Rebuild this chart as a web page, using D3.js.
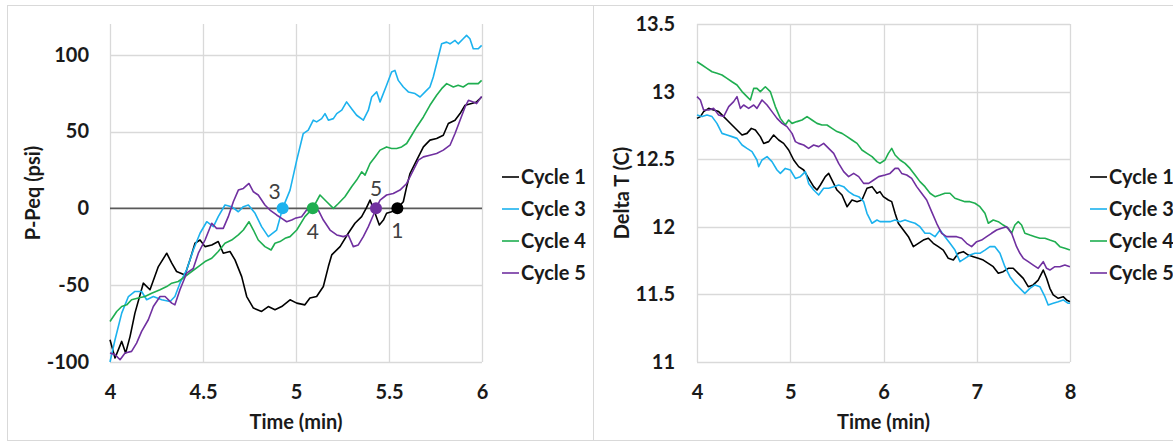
<!DOCTYPE html>
<html>
<head>
<meta charset="utf-8">
<script src="https://cdn.jsdelivr.net/npm/d3@7"></script>
<style>
  body { margin: 0; background: #fff; }
  svg { display: block; font-family: Lato, "Open Sans", sans-serif; }
</style>
</head>
<body>
<svg width="1173" height="444"></svg>
<script>
// series names / colours
const cycles = ['Cycle 1', 'Cycle 3', 'Cycle 4', 'Cycle 5'];
const cycleColors = ['#000000', '#1cb2ee', '#1fae50', '#7030a0'];

// left panel: P-Peq (psi) vs time (min)
const press1 = [[4.000,-85.5],[4.027,-97.4],[4.063,-86.6],[4.084,-94.2],[4.108,-83.3],[4.134,-68.2],[4.179,-48.7],[4.215,-53.0],[4.260,-37.9],[4.305,-29.2],[4.332,-35.7],[4.358,-41.1],[4.403,-43.3],[4.430,-33.5],[4.457,-22.7],[4.484,-20.6],[4.511,-24.9],[4.547,-23.8],[4.582,-21.6],[4.609,-29.2],[4.645,-28.1],[4.672,-33.5],[4.708,-44.4],[4.735,-57.4],[4.771,-64.9],[4.815,-67.1],[4.851,-63.9],[4.887,-66.0],[4.923,-63.9],[4.968,-59.5],[5.004,-61.7],[5.048,-62.8],[5.075,-58.4],[5.111,-57.4],[5.147,-50.9],[5.174,-37.9],[5.192,-30.3],[5.237,-24.9],[5.281,-16.2],[5.317,-9.7],[5.353,-5.4],[5.380,0.6],[5.398,5.4],[5.425,-3.2],[5.448,-10.8],[5.470,-7.6],[5.487,-3.2],[5.514,-2.2],[5.545,0],[5.577,4.3],[5.595,14.1],[5.613,22.7],[5.649,31.4],[5.685,40.0],[5.720,44.4],[5.756,45.5],[5.792,47.6],[5.819,55.2],[5.855,57.4],[5.882,61.7],[5.909,67.1],[5.944,68.2],[5.971,69.3],[5.998,72.5]];
const press3 = [[4.000,-100],[4.027,-85.5],[4.063,-68.2],[4.099,-57.4],[4.134,-54.1],[4.170,-54.1],[4.197,-59.5],[4.233,-57.4],[4.278,-59.5],[4.323,-60.6],[4.349,-57.4],[4.376,-48.7],[4.412,-40.0],[4.448,-27.1],[4.484,-16.2],[4.520,-8.7],[4.556,-11.9],[4.582,-5.4],[4.618,2.2],[4.654,1.1],[4.690,-2.2],[4.717,1.1],[4.744,2.2],[4.780,-3.2],[4.815,-11.9],[4.851,-18.4],[4.896,-14.1],[4.928,0],[4.968,11.9],[5.004,31.4],[5.039,48.7],[5.066,50.9],[5.093,57.4],[5.111,56.3],[5.138,58.4],[5.156,61.7],[5.174,57.4],[5.201,58.4],[5.219,61.7],[5.246,63.9],[5.272,69.3],[5.299,64.9],[5.326,60.6],[5.362,57.4],[5.389,63.9],[5.407,72.5],[5.434,75.8],[5.452,69.3],[5.487,80.1],[5.514,88.7],[5.532,89.8],[5.550,83.3],[5.577,79.0],[5.604,75.8],[5.640,74.7],[5.667,72.5],[5.694,75.8],[5.720,79.0],[5.738,85.5],[5.765,98.5],[5.783,107.1],[5.810,108.2],[5.828,107.1],[5.855,109.3],[5.872,107.1],[5.899,110.4],[5.917,112.6],[5.935,110.4],[5.953,103.9],[5.980,103.9],[5.998,106.1]];
const press4 = [[4.000,-73.6],[4.036,-67.1],[4.063,-63.9],[4.090,-62.8],[4.116,-59.5],[4.152,-58.4],[4.188,-57.4],[4.224,-55.2],[4.269,-53.0],[4.305,-50.9],[4.332,-48.7],[4.367,-47.6],[4.403,-44.4],[4.439,-41.1],[4.475,-37.9],[4.511,-34.6],[4.547,-32.5],[4.582,-28.1],[4.618,-22.7],[4.654,-20.6],[4.690,-17.3],[4.717,-14.1],[4.747,-8.7],[4.771,-14.1],[4.797,-20.6],[4.833,-24.9],[4.866,-27.1],[4.887,-22.7],[4.914,-21.6],[4.941,-19.5],[4.968,-18.4],[5.004,-14.1],[5.048,-5.4],[5.090,0],[5.129,8.7],[5.165,4.3],[5.201,0],[5.228,3.2],[5.263,7.6],[5.299,14.1],[5.326,18.4],[5.353,23.8],[5.371,21.6],[5.398,29.2],[5.425,33.5],[5.452,37.9],[5.487,40.0],[5.514,39.0],[5.541,39.0],[5.568,40.0],[5.595,42.2],[5.622,47.6],[5.649,53.0],[5.685,59.5],[5.720,67.1],[5.756,73.6],[5.783,77.9],[5.810,81.2],[5.846,79.0],[5.872,80.1],[5.899,79.0],[5.926,81.2],[5.953,81.2],[5.980,81.2],[5.998,83.3]];
const press5 = [[4.000,-94.2],[4.027,-95.2],[4.054,-98.5],[4.081,-94.2],[4.116,-93.1],[4.143,-87.7],[4.170,-80.1],[4.206,-72.5],[4.233,-63.9],[4.269,-57.4],[4.296,-57.4],[4.332,-61.7],[4.349,-62.8],[4.376,-53.0],[4.412,-42.2],[4.448,-39.0],[4.475,-29.2],[4.511,-20.6],[4.547,-9.7],[4.573,-13.0],[4.609,-13.0],[4.636,-5.4],[4.663,4.3],[4.690,11.9],[4.717,13.0],[4.747,16.2],[4.771,10.8],[4.797,8.7],[4.833,2.2],[4.860,-1.1],[4.896,-4.3],[4.923,-6.5],[4.950,-8.7],[4.977,-7.6],[4.995,-6.5],[5.030,-5.4],[5.057,-1.1],[5.093,1.1],[5.120,-1.1],[5.147,-7.6],[5.183,-14.1],[5.219,-17.3],[5.254,-18.4],[5.281,-17.3],[5.308,-24.9],[5.335,-23.8],[5.362,-18.4],[5.389,-11.9],[5.416,-4.3],[5.430,0],[5.452,5.4],[5.487,8.7],[5.523,9.7],[5.559,11.9],[5.595,16.2],[5.622,22.7],[5.658,31.4],[5.685,33.5],[5.720,34.6],[5.756,35.7],[5.792,37.9],[5.828,41.1],[5.855,48.7],[5.882,57.4],[5.909,66.0],[5.927,70.3],[5.953,69.3],[5.971,68.2],[5.998,72.9]];

// zero crossings marked on the left panel (same order as cycles)
const crossTimes = [5.545, 4.928, 5.090, 5.430];
const crossLabels = ['1', '3', '4', '5'];

// right panel: Delta T (C) vs time (min)
const temp1 = [[4.000,12.802],[4.036,12.815],[4.071,12.852],[4.125,12.876],[4.179,12.864],[4.232,12.852],[4.286,12.815],[4.322,12.790],[4.375,12.753],[4.429,12.716],[4.483,12.679],[4.536,12.691],[4.583,12.728],[4.626,12.716],[4.679,12.667],[4.715,12.617],[4.769,12.630],[4.822,12.679],[4.876,12.642],[4.929,12.617],[4.983,12.568],[5.037,12.494],[5.090,12.445],[5.144,12.420],[5.197,12.358],[5.251,12.297],[5.287,12.272],[5.323,12.309],[5.376,12.371],[5.412,12.395],[5.448,12.346],[5.501,12.272],[5.555,12.235],[5.609,12.149],[5.662,12.198],[5.716,12.186],[5.769,12.198],[5.823,12.285],[5.877,12.297],[5.930,12.248],[5.962,12.260],[5.998,12.223],[6.052,12.198],[6.088,12.186],[6.124,12.100],[6.159,12.026],[6.213,11.976],[6.267,11.927],[6.320,11.853],[6.374,11.878],[6.427,11.902],[6.481,11.915],[6.534,11.878],[6.588,11.853],[6.641,11.828],[6.695,11.767],[6.749,11.754],[6.802,11.804],[6.856,11.816],[6.909,11.791],[6.963,11.779],[7.016,11.767],[7.070,11.754],[7.124,11.730],[7.177,11.705],[7.231,11.656],[7.284,11.668],[7.338,11.693],[7.391,11.693],[7.445,11.656],[7.499,11.619],[7.552,11.557],[7.606,11.570],[7.659,11.606],[7.713,11.680],[7.749,11.619],[7.784,11.545],[7.820,11.496],[7.874,11.471],[7.927,11.483],[7.963,11.459],[7.999,11.446]];
const temp3 = [[4.000,12.827],[4.054,12.815],[4.107,12.827],[4.161,12.815],[4.214,12.765],[4.268,12.691],[4.322,12.679],[4.375,12.667],[4.429,12.654],[4.483,12.605],[4.536,12.580],[4.590,12.556],[4.643,12.494],[4.661,12.445],[4.697,12.494],[4.751,12.519],[4.804,12.482],[4.858,12.420],[4.894,12.395],[4.947,12.432],[5.001,12.420],[5.055,12.358],[5.108,12.371],[5.162,12.408],[5.197,12.321],[5.251,12.272],[5.305,12.235],[5.358,12.285],[5.412,12.285],[5.466,12.297],[5.519,12.309],[5.573,12.297],[5.626,12.260],[5.680,12.235],[5.734,12.223],[5.787,12.186],[5.823,12.100],[5.877,12.026],[5.930,12.050],[5.962,12.038],[6.016,12.038],[6.070,12.038],[6.124,12.050],[6.177,12.038],[6.231,12.050],[6.284,12.038],[6.338,12.026],[6.391,12.001],[6.445,11.952],[6.499,11.952],[6.552,11.927],[6.606,11.976],[6.659,11.927],[6.713,11.878],[6.766,11.828],[6.820,11.742],[6.874,11.767],[6.927,11.791],[6.981,11.804],[7.034,11.804],[7.088,11.828],[7.141,11.853],[7.195,11.853],[7.249,11.804],[7.302,11.705],[7.356,11.631],[7.409,11.582],[7.463,11.545],[7.516,11.508],[7.570,11.545],[7.624,11.570],[7.677,11.557],[7.731,11.483],[7.766,11.422],[7.820,11.434],[7.874,11.446],[7.927,11.459],[7.981,11.434],[8.000,11.434]];
const temp4 = [[4.000,13.221],[4.054,13.197],[4.107,13.172],[4.161,13.147],[4.214,13.135],[4.268,13.123],[4.322,13.098],[4.375,13.073],[4.429,13.049],[4.483,13.000],[4.536,12.963],[4.572,12.938],[4.608,13.024],[4.643,13.024],[4.679,13.000],[4.733,13.036],[4.786,13.000],[4.840,12.889],[4.894,12.802],[4.947,12.753],[4.983,12.790],[5.019,12.765],[5.072,12.778],[5.126,12.790],[5.180,12.815],[5.233,12.790],[5.287,12.765],[5.340,12.753],[5.394,12.753],[5.448,12.728],[5.501,12.704],[5.555,12.691],[5.609,12.667],[5.662,12.642],[5.716,12.617],[5.769,12.568],[5.823,12.543],[5.877,12.519],[5.930,12.482],[5.962,12.469],[6.016,12.494],[6.052,12.543],[6.088,12.580],[6.124,12.531],[6.177,12.494],[6.231,12.469],[6.284,12.432],[6.338,12.383],[6.391,12.334],[6.445,12.297],[6.499,12.248],[6.552,12.223],[6.606,12.235],[6.659,12.248],[6.713,12.248],[6.766,12.211],[6.820,12.198],[6.874,12.186],[6.927,12.186],[6.981,12.174],[7.034,12.149],[7.088,12.100],[7.124,12.026],[7.177,12.050],[7.231,12.038],[7.284,12.013],[7.338,11.989],[7.374,11.952],[7.409,12.013],[7.445,12.038],[7.481,12.013],[7.516,11.952],[7.570,11.939],[7.624,11.927],[7.677,11.915],[7.731,11.915],[7.784,11.902],[7.838,11.890],[7.891,11.853],[7.945,11.841],[7.999,11.828]];
const temp5 = [[4.000,12.963],[4.036,12.938],[4.071,12.864],[4.125,12.864],[4.179,12.876],[4.232,12.827],[4.286,12.815],[4.340,12.889],[4.393,12.926],[4.429,12.963],[4.465,12.876],[4.500,12.901],[4.554,12.876],[4.608,12.901],[4.643,12.876],[4.697,12.938],[4.751,12.901],[4.804,12.852],[4.858,12.802],[4.912,12.765],[4.965,12.741],[5.019,12.691],[5.055,12.630],[5.090,12.617],[5.144,12.605],[5.197,12.580],[5.251,12.605],[5.305,12.593],[5.358,12.617],[5.412,12.580],[5.466,12.543],[5.519,12.469],[5.573,12.408],[5.626,12.371],[5.680,12.395],[5.734,12.371],[5.787,12.321],[5.841,12.321],[5.895,12.346],[5.948,12.371],[6.016,12.383],[6.070,12.395],[6.124,12.432],[6.159,12.432],[6.195,12.395],[6.249,12.383],[6.302,12.358],[6.356,12.297],[6.409,12.248],[6.463,12.198],[6.516,12.112],[6.570,12.026],[6.624,11.952],[6.677,11.927],[6.731,11.927],[6.784,11.927],[6.838,11.915],[6.891,11.878],[6.945,11.853],[6.999,11.890],[7.052,11.902],[7.106,11.927],[7.159,11.952],[7.213,11.976],[7.266,11.989],[7.320,12.001],[7.374,11.952],[7.427,11.853],[7.463,11.804],[7.499,11.767],[7.552,11.742],[7.606,11.717],[7.659,11.693],[7.713,11.742],[7.749,11.693],[7.784,11.680],[7.838,11.705],[7.891,11.705],[7.945,11.717],[7.999,11.705]];

// axis ticks
const pressXTicks = [4, 4.5, 5, 5.5, 6];
const pressYTicks = [-100, -50, 0, 50, 100];
const tempXTicks = [4, 5, 6, 7, 8];
const tempYTicks = [11, 11.5, 12, 12.5, 13, 13.5];

const svg = d3.select('svg');
const gridColor = '#d9d9d9';
const textColor = '#1a1a1a';

// panel frames
svg.append('rect').attr('x', 7.5).attr('y', 5.5).attr('width', 586).attr('height', 435)
  .attr('fill', 'none').attr('stroke', gridColor);
svg.append('rect').attr('x', 593.5).attr('y', 5.5).attr('width', 600).attr('height', 435)
  .attr('fill', 'none').attr('stroke', gridColor);

function drawPanel(p) {
  const x = d3.scaleLinear().domain(p.xDomain).range([p.left, p.right]);
  const y = d3.scaleLinear().domain(p.yDomain).range([p.bottom, p.top]);
  const g = svg.append('g');

  // grid
  g.selectAll('.vg').data(p.xTicks).join('line')
    .attr('x1', d => Math.round(x(d)) + 0.5).attr('x2', d => Math.round(x(d)) + 0.5)
    .attr('y1', p.top).attr('y2', p.bottom)
    .attr('stroke', gridColor).attr('stroke-width', 1.3);
  g.selectAll('.hg').data(p.yTicks.filter(d => d !== p.zeroLine)).join('line')
    .attr('x1', p.left).attr('x2', p.right)
    .attr('y1', d => Math.round(y(d)) + 0.5).attr('y2', d => Math.round(y(d)) + 0.5)
    .attr('stroke', gridColor).attr('stroke-width', 1.3);

  // axes (labels only), plain hyphen minus like the original
  const fmt = d => String(d);
  const xAxis = g.append('g').attr('transform', `translate(0,${p.bottom + 30})`)
    .call(d3.axisBottom(x).tickValues(p.xTicks).tickFormat(fmt).tickSize(0).tickPadding(0));
  const yAxis = g.append('g').attr('transform', `translate(${p.tickRight},0)`)
    .call(d3.axisLeft(y).tickValues(p.yTicks).tickFormat(fmt).tickSize(0).tickPadding(0));
  [xAxis, yAxis].forEach(a => {
    a.select('.domain').remove();
    a.selectAll('text').attr('font-family', 'Lato, sans-serif').attr('font-size', 20)
      .attr('font-weight', 'bold').attr('fill', textColor);
  });
  xAxis.selectAll('text').attr('dy', '0.35em');

  // zero line
  if (p.zeroLine !== undefined) {
    g.append('line').attr('x1', p.left).attr('x2', p.right)
      .attr('y1', y(0)).attr('y2', y(0))
      .attr('stroke', '#595959').attr('stroke-width', 1.6);
  }

  // series
  const line = d3.line().x(d => x(d[0])).y(d => y(d[1]));
  p.series.forEach((s, i) => {
    g.append('path').datum(s).attr('d', line)
      .attr('fill', 'none').attr('stroke', cycleColors[i])
      .attr('stroke-width', 1.6).attr('stroke-linejoin', 'round');
  });

  // axis titles
  g.append('text').attr('x', (p.left + p.right) / 2).attr('y', 422)
    .attr('text-anchor', 'middle').attr('dy', '0.35em')
    .attr('font-size', 20).attr('font-weight', 'bold').attr('fill', textColor)
    .text('Time (min)');
  g.append('text').attr('transform', `translate(${p.titleX},${(p.top + p.bottom) / 2}) rotate(-90)`)
    .attr('text-anchor', 'middle').attr('dy', '0.35em')
    .attr('font-size', 20).attr('font-weight', 'bold').attr('fill', textColor)
    .text(p.yTitle);

  // legend
  const leg = g.append('g').attr('transform', `translate(${p.legendX},177)`);
  cycles.forEach((c, i) => {
    const row = leg.append('g').attr('transform', `translate(0,${i * 32})`);
    row.append('line').attr('x1', 0).attr('x2', 17).attr('y1', 0).attr('y2', 0)
      .attr('stroke', cycleColors[i]).attr('stroke-width', 1.6);
    row.append('text').attr('x', 19).attr('dy', '0.35em')
      .attr('font-size', 20).attr('font-weight', 'bold').attr('fill', textColor)
      .text(c);
  });

  return { x, y, g };
}

const left = drawPanel({
  xDomain: [4, 6], yDomain: [-100, 120],
  left: 110, right: 482, top: 24, bottom: 362,
  xTicks: pressXTicks, yTicks: pressYTicks, zeroLine: 0,
  tickRight: 89, titleX: 33, yTitle: 'P-Peq (psi)', legendX: 502,
  series: [press1, press3, press4, press5]
});

drawPanel({
  xDomain: [4, 8], yDomain: [11, 13.5],
  left: 697, right: 1070, top: 24, bottom: 362,
  xTicks: tempXTicks, yTicks: tempYTicks,
  tickRight: 675, titleX: 622, yTitle: 'Delta T (C)', legendX: 1090,
  series: [temp1, temp3, temp4, temp5]
});

// zero-crossing markers and their labels
const labelOffset = { '1': [0, 22], '3': [-8, -17], '4': [0, 23], '5': [0, -20] };
crossTimes.forEach((t, i) => {
  const cx = left.x(t), cy = left.y(0);
  left.g.append('circle').attr('cx', cx).attr('cy', cy).attr('r', 6)
    .attr('fill', cycleColors[i]);
  const off = labelOffset[crossLabels[i]];
  left.g.append('text').attr('x', cx + off[0]).attr('y', cy + off[1])
    .attr('text-anchor', 'middle').attr('dy', '0.35em')
    .attr('font-size', 21).attr('fill', '#404040')
    .text(crossLabels[i]);
});
</script>
</body>
</html>
